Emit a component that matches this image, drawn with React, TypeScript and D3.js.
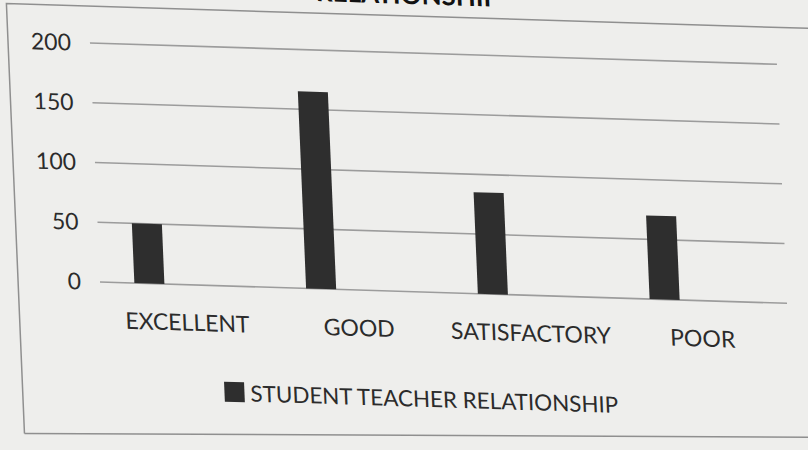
import React from "react";
import * as d3 from "d3";

const categories = ["EXCELLENT", "GOOD", "SATISFACTORY", "POOR"];
const values = [50, 165, 85, 70];
const yTicks = [0, 50, 100, 150, 200];
const seriesName = "STUDENT TEACHER RELATIONSHIP";
const titleLines = ["STUDENT TEACHER", "RELATIONSHIP"];

const width = 808;
const height = 450;
const plot = { left: 100, right: 787, top: 43, bottom: 282 };

// the photographed page is skewed: horizontals run downhill, verticals lean right
const skewX = 0.042;
const skewY = 0.031;
const warp = `matrix(1, ${skewY}, ${skewX}, 1, ${-skewX * plot.bottom}, ${-skewY * plot.left})`;

const font = "Lato, 'Open Sans', sans-serif";
const ink = "#2b2b2b";
const gridColor = "#9c9c9c";

const App = () => {
  const x = d3.scaleBand().domain(categories).range([plot.left, plot.right]);
  const y = d3.scaleLinear().domain([0, 200]).range([plot.bottom, plot.top]);
  const bw = x.bandwidth();
  const barW = bw * 0.175;
  const barX = (c: string) => x(c)! + bw * 0.2;

  return (
    <svg
      width={width}
      height={height}
      style={{ position: "absolute", left: 0, top: 0, background: "#eeeeec" }}
    >
      <rect width={width} height={height} fill="#eeeeec" />
      <g transform={warp}>
        {/* chart frame */}
        <path d="M18,436 L18,6 L860,6" fill="none" stroke="#8f8f8f" strokeWidth={1.5} />
        <path d="M18,436 L860,414" fill="none" stroke="#8f8f8f" strokeWidth={1.5} />

        {/* title, mostly cut off by the top of the photo */}
        <text
          x={420}
          y={-6}
          textAnchor="middle"
          fontFamily={font}
          fontWeight="bold"
          fontSize={26}
          fill="#111"
        >
          {titleLines.map((t, i) => (
            <tspan key={t} x={420} dy={i === 0 ? -32 : 32}>
              {t}
            </tspan>
          ))}
        </text>

        {/* gridlines and y labels */}
        {yTicks.map((t) => (
          <g key={t}>
            <line
              x1={plot.left}
              x2={plot.right}
              y1={y(t)}
              y2={y(t)}
              stroke={gridColor}
              strokeWidth={1.6}
            />
            <text
              x={plot.left - 19}
              y={y(t)}
              dy="0.35em"
              textAnchor="end"
              fontFamily={font}
              fontSize={23}
              fill={ink}
            >
              {t}
            </text>
          </g>
        ))}

        {/* bars */}
        {categories.map((c, i) => (
          <rect
            key={c}
            x={barX(c)}
            y={y(values[i])}
            width={barW}
            height={y(0) - y(values[i])}
            fill="#2e2e2e"
          />
        ))}

        {/* category labels */}
        {categories.map((c) => (
          <text
            key={c}
            x={x(c)! + bw / 2}
            y={328}
            textAnchor="middle"
            fontFamily={font}
            fontSize={23}
            fill={ink}
          >
            {c}
          </text>
        ))}

        {/* legend */}
        <rect x={220} y={378} width={20} height={20} fill="#2e2e2e" />
        <text x={246} y={397} fontFamily={font} fontSize={22.4} fill={ink}>
          {seriesName}
        </text>
      </g>
    </svg>
  );
};

export default App;
